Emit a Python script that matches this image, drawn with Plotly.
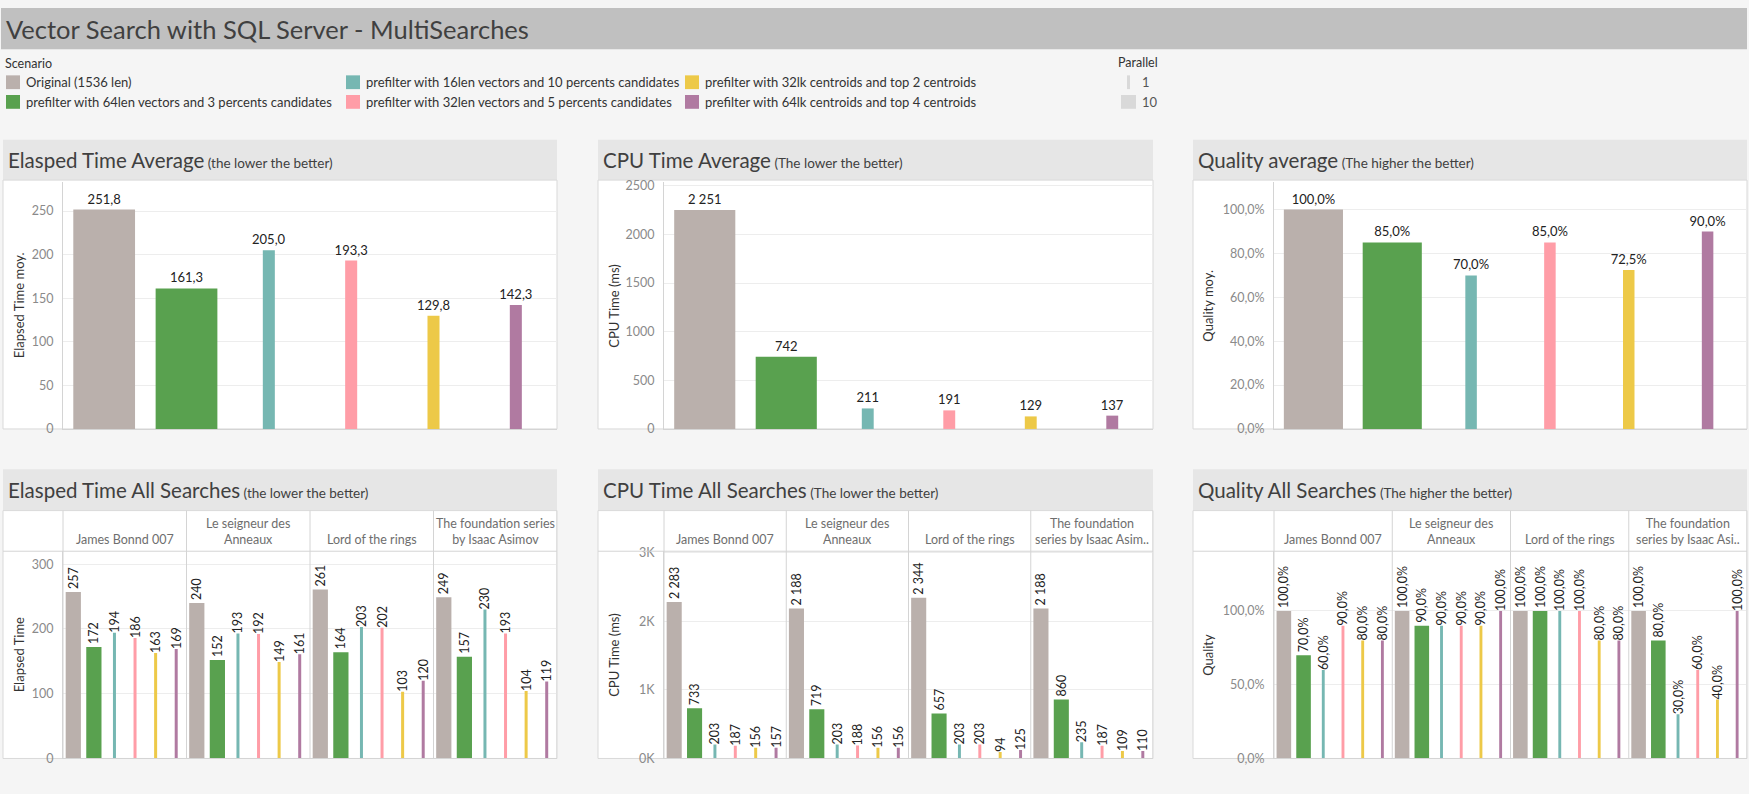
import plotly.graph_objects as go

W, H = 1749, 794

# ---------------- data ----------------
SCENARIOS = [
    "Original (1536 len)",
    "prefilter with 64len vectors and 3 percents candidates",
    "prefilter with 16len vectors and 10 percents candidates",
    "prefilter with 32len vectors and 5 percents candidates",
    "prefilter with 32lk centroids and top 2 centroids",
    "prefilter with 64lk centroids and top 4 centroids",
]
COLORS = ["#bab0ac", "#59a14f", "#76b7b2", "#ff9da7", "#edc948", "#b07aa1"]
PARALLEL = [10, 10, 1, 1, 1, 1]

SEARCHES = ["James Bonnd 007", "Le seigneur des Anneaux", "Lord of the rings",
            "The foundation series by Isaac Asimov"]
HEAD_ELAPSED = ["James Bonnd 007", "Le seigneur des<br>Anneaux", "Lord of the rings",
                "The foundation series<br>by Isaac Asimov"]
HEAD_CPU = ["James Bonnd 007", "Le seigneur des<br>Anneaux", "Lord of the rings",
            "The foundation<br>series by Isaac Asim.."]
HEAD_QUALITY = ["James Bonnd 007", "Le seigneur des<br>Anneaux", "Lord of the rings",
                "The foundation<br>series by Isaac Asi.."]

ELAPSED_AVG = [251.8, 161.3, 205.0, 193.3, 129.8, 142.3]
CPU_AVG = [2251, 742, 211, 191, 129, 137]
QUALITY_AVG = [1.00, 0.85, 0.70, 0.85, 0.725, 0.90]

# rows = searches, columns = scenarios
ELAPSED_ALL = [
    [257, 172, 194, 186, 163, 169],
    [240, 152, 193, 192, 149, 161],
    [261, 164, 203, 202, 103, 120],
    [249, 157, 230, 193, 104, 119],
]
CPU_ALL = [
    [2283, 733, 203, 187, 156, 157],
    [2188, 719, 203, 188, 156, 156],
    [2344, 657, 203, 203, 94, 125],
    [2188, 860, 235, 187, 109, 110],
]
QUALITY_ALL = [
    [1.00, 0.70, 0.60, 0.90, 0.80, 0.80],
    [1.00, 0.90, 0.90, 0.90, 0.90, 1.00],
    [1.00, 1.00, 1.00, 1.00, 0.80, 0.80],
    [1.00, 0.80, 0.30, 0.60, 0.40, 1.00],
]

# ---------------- helpers ----------------
FONT = "Lato, 'Open Sans', sans-serif"


def px(x):
    return x / W


def py(y):
    return 1 - y / H


def xa(k):
    return "x" if k == 1 else f"x{k}"


def ya(k):
    return "y" if k == 1 else f"y{k}"


def bar_width(p, wide, thin):
    return wide if p == 10 else thin


fig = go.Figure()

# ---------------- top row (averages) ----------------
top_specs = [
    (1, ELAPSED_AVG, "%{y:.1f}"),
    (2, CPU_AVG, "%{y:,.0f}"),
    (3, QUALITY_AVG, "%{y:.1%}"),
]
for k, vals, tmpl in top_specs:
    for i, s in enumerate(SCENARIOS):
        fig.add_trace(go.Bar(
            x=[s], y=[vals[i]], width=[bar_width(PARALLEL[i], 0.75, 0.146)],
            marker=dict(color=COLORS[i], line=dict(width=0)),
            texttemplate=tmpl, textposition="outside", textangle=0,
            constraintext="none", cliponaxis=False,
            textfont=dict(family=FONT, size=13, color="#222"),
            xaxis=xa(k), yaxis=ya(k), showlegend=False, name=s,
        ))

# ---------------- bottom row (all searches) ----------------
bottom_specs = [
    (4, ELAPSED_ALL, "%{y:.0f}"),
    (5, CPU_ALL, "%{y:,.0f}"),
    (6, QUALITY_ALL, "%{y:.1%}"),
]
for k, table, tmpl in bottom_specs:
    for i, s in enumerate(SCENARIOS):
        xs = [f * len(SCENARIOS) + i for f in range(len(SEARCHES))]
        ys = [table[f][i] for f in range(len(SEARCHES))]
        fig.add_trace(go.Bar(
            x=xs, y=ys, width=[bar_width(PARALLEL[i], 0.74, 0.146)] * len(xs),
            marker=dict(color=COLORS[i], line=dict(width=0)),
            texttemplate=tmpl, textposition="outside", textangle=-90,
            constraintext="none", cliponaxis=False,
            textfont=dict(family=FONT, size=12.5, color="#222"),
            xaxis=xa(k), yaxis=ya(k), showlegend=False, name=s,
        ))

# ---------------- axes ----------------
TOP_Y = (179.3, 430)
BOT_Y = (554.3, 765)
COLS = [(63, 557), (664, 1153), (1274, 1747)]

ytick = dict(family=FONT, size=12.5, color="#8a8a8a")
common_y = dict(showgrid=True, gridcolor="#ededed", gridwidth=1, zeroline=False,
                showline=True, linecolor="#d4d4d4", linewidth=1, ticks="",
                tickfont=ytick, ticklabelstandoff=6, fixedrange=True)
common_x = dict(showgrid=False, zeroline=False, showticklabels=False, ticks="",
                showline=True, linecolor="#d4d4d4", linewidth=1, fixedrange=True)

axes = {}
y_conf = {
    1: dict(range=[0, 283], tickvals=[0, 50, 100, 150, 200, 250]),
    2: dict(range=[0, 2535], tickvals=[0, 500, 1000, 1500, 2000, 2500]),
    3: dict(range=[0, 1.124], tickvals=[0, 0.2, 0.4, 0.6, 0.8, 1.0], tickformat=".1%"),
    4: dict(range=[0, 320], tickvals=[0, 100, 200, 300]),
    5: dict(range=[0, 3023], tickvals=[0, 1000, 2000, 3000], ticktext=["0K", "1K", "2K", "3K"]),
    6: dict(range=[0, 1.405], tickvals=[0, 0.5, 1.0], tickformat=".1%"),
}
nS = len(SCENARIOS)
nF = len(SEARCHES)
for k in range(1, 7):
    col = (k - 1) % 3
    x0, x1 = COLS[col]
    yt, yb = TOP_Y if k <= 3 else BOT_Y
    xname = "xaxis" if k == 1 else f"xaxis{k}"
    yname = "yaxis" if k == 1 else f"yaxis{k}"
    xd = dict(common_x, domain=[px(x0), px(x1)], anchor=ya(k))
    if k <= 3:
        xd.update(type="category", categoryorder="array", categoryarray=SCENARIOS,
                  range=[-0.5, nS - 0.5])
    else:
        xd.update(type="linear", range=[-0.5, nS * nF - 0.5])
    axes[xname] = xd
    axes[yname] = dict(common_y, domain=[py(yb), py(yt)], anchor=xa(k), **y_conf[k])

# ---------------- decorations ----------------
shapes = []
annotations = []

# title bar
shapes.append(dict(type="rect", xref="paper", yref="paper", x0=px(1), x1=px(1747),
                   y0=py(44), y1=py(2), fillcolor="#c0c0c0", line=dict(width=0), layer="below"))
annotations.append(dict(xref="paper", yref="paper", x=px(4), y=py(23), xanchor="left",
                        yanchor="middle", showarrow=False,
                        text="Vector Search with SQL Server - MultiSearches",
                        font=dict(family=FONT, size=25.5, color="#404040")))

# legend
annotations.append(dict(xref="paper", yref="paper", x=px(3), y=py(58), xanchor="left",
                        yanchor="middle", showarrow=False, text="Scenario",
                        font=dict(family=FONT, size=12.5, color="#333")))
COLX = [6, 346, 685]
ROWY = [77.5, 97.5]
for i, s in enumerate(SCENARIOS):
    cx = COLX[i // 2]
    cy = ROWY[i % 2]
    shapes.append(dict(type="rect", xref="paper", yref="paper", x0=px(cx), x1=px(cx + 14),
                       y0=py(cy + 7), y1=py(cy - 7), fillcolor=COLORS[i], line=dict(width=0)))
    annotations.append(dict(xref="paper", yref="paper", x=px(cx + 18), y=py(cy), xanchor="left",
                            yanchor="middle", showarrow=False, text=s,
                            font=dict(family=FONT, size=13, color="#333")))
annotations.append(dict(xref="paper", yref="paper", x=px(1116), y=py(57), xanchor="left",
                        yanchor="middle", showarrow=False, text="Parallel",
                        font=dict(family=FONT, size=12.5, color="#333")))
for j, (p, wpx) in enumerate([(1, 3), (10, 15)]):
    cy = ROWY[j]
    shapes.append(dict(type="rect", xref="paper", yref="paper", x0=px(1128.5 - wpx / 2),
                       x1=px(1128.5 + wpx / 2), y0=py(cy + 7), y1=py(cy - 7),
                       fillcolor="#d9d9d9", line=dict(width=0)))
    annotations.append(dict(xref="paper", yref="paper", x=px(1140), y=py(cy), xanchor="left",
                            yanchor="middle", showarrow=False, text=str(p),
                            font=dict(family=FONT, size=13, color="#555")))

# panels
PANEL_X = [(3, 557), (598, 1153), (1193, 1747)]
TITLES_TOP = [("Elasped Time Average", "(the lower the better)"),
              ("CPU Time Average", "(The lower the better)"),
              ("Quality average", "(The higher the better)")]
TITLES_BOT = [("Elasped Time All Searches", "(the lower the better)"),
              ("CPU Time All Searches", "(The lower the better)"),
              ("Quality All Searches", "(The higher the better)")]
AXIS_TITLES_TOP = ["Elapsed Time moy.", "CPU Time (ms)", "Quality moy."]
AXIS_TITLES_BOT = ["Elapsed Time", "CPU Time (ms)", "Quality"]
AXIS_TITLE_X = [18.5, 614, 1208]
HEADS = [HEAD_ELAPSED, HEAD_CPU, HEAD_QUALITY]

for c in range(3):
    x0, x1 = PANEL_X[c]
    for (hy0, hy1, wy1, titles, atitles, plot_y) in [
        (136, 177, 430, TITLES_TOP, AXIS_TITLES_TOP, TOP_Y),
        (471, 513, 765, TITLES_BOT, AXIS_TITLES_BOT, BOT_Y),
    ]:
        shapes.append(dict(type="rect", xref="paper", yref="paper", x0=px(x0), x1=px(x1),
                           y0=py(hy1), y1=py(hy0), fillcolor="#e6e6e6", line=dict(width=0),
                           layer="below"))
        shapes.append(dict(type="rect", xref="paper", yref="paper", x0=px(x0), x1=px(x1),
                           y0=py(wy1), y1=py(hy1), fillcolor="#ffffff",
                           line=dict(width=1, color="#d9d9d9"), layer="below"))
        t, sub = titles[c]
        annotations.append(dict(xref="paper", yref="paper", x=px(x0 + 3), y=py((hy0 + hy1) / 2),
                                xanchor="left", yanchor="middle", showarrow=False,
                                text=f"<span style='font-size:20.5px'>{t}</span>"
                                     f"<span style='font-size:13.5px'> {sub}</span>",
                                font=dict(family=FONT, size=20.5, color="#404040")))
        annotations.append(dict(xref="paper", yref="paper", x=px(AXIS_TITLE_X[c]),
                                y=py((plot_y[0] + plot_y[1]) / 2), xanchor="center",
                                yanchor="middle", textangle=-90, showarrow=False,
                                text=atitles[c],
                                font=dict(family=FONT, size=13, color="#333")))

    # facet header lines / dividers for bottom row
    k = 4 + c
    ax0, ax1 = COLS[c]
    shapes.append(dict(type="line", xref="paper", yref="paper", x0=px(x0), x1=px(x1),
                       y0=py(BOT_Y[0]), y1=py(BOT_Y[0]), line=dict(color="#d4d4d4", width=1)))
    shapes.append(dict(type="line", xref="paper", yref="paper", x0=px(ax0), x1=px(ax0),
                       y0=py(513), y1=py(765), line=dict(color="#d4d4d4", width=1)))
    for f in range(nF):
        bx = (f + 1) * nS - 0.5
        shapes.append(dict(type="line", xref=xa(k), yref="paper", x0=bx, x1=bx,
                           y0=py(513), y1=py(765), line=dict(color="#d4d4d4", width=1)))
        annotations.append(dict(xref=xa(k), yref="paper", x=f * nS + (nS - 1) / 2, y=py(552),
                                xanchor="center", yanchor="bottom", showarrow=False,
                                text=HEADS[c][f],
                                font=dict(family=FONT, size=12.5, color="#6e6e6e")))

fig.update_layout(
    width=W, height=H, margin=dict(l=0, r=0, t=0, b=0),
    paper_bgcolor="#f5f5f5", plot_bgcolor="rgba(0,0,0,0)",
    barmode="overlay", separators=", ",
    font=dict(family=FONT, color="#333"),
    shapes=shapes, annotations=annotations,
    showlegend=False,
    **axes,
)

fig.write_html("out.html", post_script="document.body.style.margin='0';")
